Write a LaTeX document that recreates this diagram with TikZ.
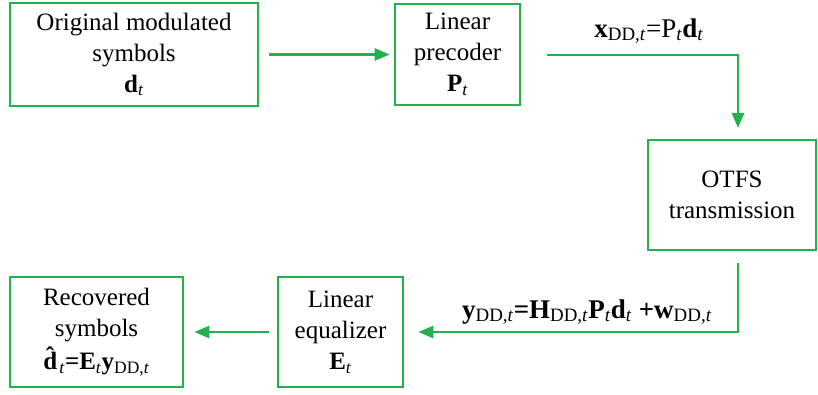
\documentclass[tikz,border=0pt]{standalone}
\usepackage{fontspec}
\setmainfont{Liberation Serif}
\usetikzlibrary{arrows.meta}
\definecolor{grn}{RGB}{34,177,76}
\newcommand\sbs[1]{\textsubscript{\normalfont #1}}
\newcommand\tsub{\sbs{\textit{t}}}
\newcommand\ddt{\sbs{DD,\textit{t}}}
\begin{document}
\begin{tikzpicture}[x=1pt,y=-1pt,
  blk/.style={draw=grn,line width=2.6pt,align=center,inner sep=0pt,
    font=\fontsize{25}{31}\selectfont},
  arr/.style={draw=grn,line width=2.6pt,-{Triangle[length=15pt,width=12pt]}},
  lbl/.style={font=\fontsize{27}{31}\selectfont,inner sep=0pt}]
\useasboundingbox (0,0) rectangle (818,395);
\node[blk,minimum width=248pt,minimum height=103pt] (b1) at (134,54.5)
  {Original modulated\\symbols\\\textbf{d}\tsub};
\node[blk,minimum width=125pt,minimum height=101pt] (b2) at (457.5,54.5)
  {Linear\\precoder\\\textbf{P}\tsub};
\node[blk,minimum width=168pt,minimum height=110pt] (b3) at (732,195)
  {OTFS\\transmission};
\node[blk,minimum width=125pt,minimum height=110pt] (b4) at (340.5,332)
  {Linear\\equalizer\\\textbf{E}\tsub};
\node[blk,minimum width=173pt,minimum height=110pt] (b5) at (96.5,332)
  {Recovered\\symbols\\[2pt]\textbf{\^{d}}\kern-2pt\tsub\textbf{=E}\tsub\textbf{y}\ddt};
\node[lbl] (l1) at (649,31) {\textbf{x}\ddt=P\tsub\textbf{d}\tsub};
\node[lbl] (l2) at (587,312) {\textbf{y}\ddt\textbf{=H}\ddt\textbf{P}\tsub\textbf{d}\tsub\ \textbf{+w}\ddt};
\coordinate (k1) at (547,55);
\coordinate (k2) at (738,128);
\coordinate (k3) at (738,263);
\draw[arr,shorten <=10pt,shorten >=4pt] (b1.east) -- (b2.west);
\draw[arr] (k1) -| (k2);
\draw[arr] (k3) |- ([xshift=14pt]b4.east);
\draw[arr] ([xshift=-8pt]b4.west) -- ([xshift=10pt]b5.east);
\end{tikzpicture}
\end{document}
